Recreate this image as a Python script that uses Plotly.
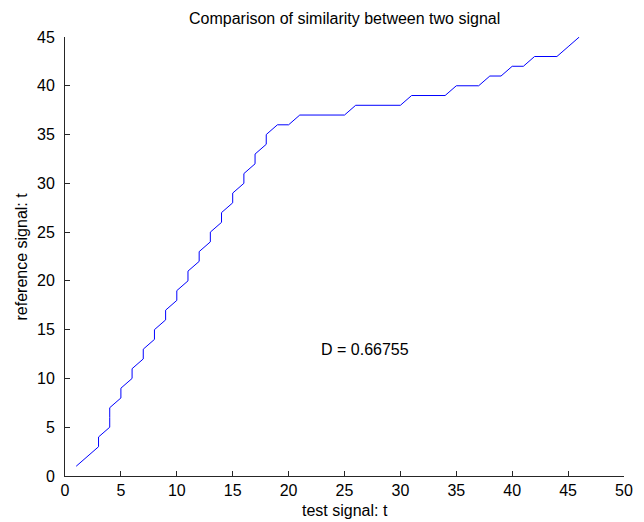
import plotly.graph_objects as go

# Warping path: test-signal index vs reference-signal index
test_t = [1, 2, 3, 3, 4, 4, 4, 5, 5, 6, 6, 7, 7, 8, 8, 9, 9, 10, 10, 11, 11,
          12, 12, 13, 13, 14, 14, 15, 15, 16, 16, 17, 17, 18, 18,
          19, 20, 21, 22, 23, 24, 25, 26, 27, 28, 29, 30, 31, 32, 33, 34,
          35, 36, 37, 38, 39, 40, 41, 42, 43, 44, 45, 46]
ref_t = [1, 2, 3, 4, 5, 6, 7, 8, 9, 10, 11, 12, 13, 14, 15, 16, 17, 18, 19,
         20, 21, 22, 23, 24, 25, 26, 27, 28, 29, 30, 31, 32, 33, 34, 35,
         36, 36, 37, 37, 37, 37, 37, 38, 38, 38, 38, 38, 39, 39, 39, 39,
         40, 40, 40, 41, 41, 42, 42, 43, 43, 43, 44, 45]

distance = 0.66755
x_ticks = [0, 5, 10, 15, 20, 25, 30, 35, 40, 45, 50]
y_ticks = [0, 5, 10, 15, 20, 25, 30, 35, 40, 45]

FONT = "Liberation Sans, Arial, sans-serif"
FSIZE = 16

fig = go.Figure()
fig.add_trace(go.Scatter(x=test_t, y=ref_t, mode="lines",
                         line=dict(color="#0000ff", width=1),
                         showlegend=False, hoverinfo="skip"))

fig.add_annotation(x=23, y=13, text=f"D = {distance}", showarrow=False,
                   xanchor="left", yanchor="middle", xshift=-3,
                   font=dict(family=FONT, size=FSIZE, color="black"))

axis_common = dict(showgrid=False, zeroline=False, showline=True,
                   linecolor="#262626", linewidth=1, ticks="inside",
                   ticklen=5, tickcolor="#262626", mirror=False,
                   tickfont=dict(family=FONT, size=FSIZE, color="black"))

fig.update_xaxes(range=[0, 50], tickvals=x_ticks, **axis_common)
fig.update_yaxes(range=[0, 45], tickvals=y_ticks, ticklabelstandoff=6,
                 **axis_common)

fig.add_annotation(xref="paper", yref="paper", x=0.5, y=0, yshift=-34,
                   text="test signal: t", showarrow=False,
                   xanchor="center", yanchor="middle",
                   font=dict(family=FONT, size=FSIZE, color="black"))
fig.add_annotation(xref="paper", yref="paper", x=0, y=0.5, xshift=-44,
                   text="reference signal: t", showarrow=False, textangle=-90,
                   xanchor="center", yanchor="middle",
                   font=dict(family=FONT, size=FSIZE, color="black"))
fig.add_annotation(xref="paper", yref="paper", x=0.5, y=1, yshift=19,
                   text="Comparison of similarity between two signal",
                   showarrow=False, xanchor="center", yanchor="middle",
                   font=dict(family=FONT, size=FSIZE, color="black"))

fig.update_layout(width=644, height=522,
                  margin=dict(l=65, r=20, t=37, b=46),
                  plot_bgcolor="white", paper_bgcolor="white")

fig.write_html("out.html")
